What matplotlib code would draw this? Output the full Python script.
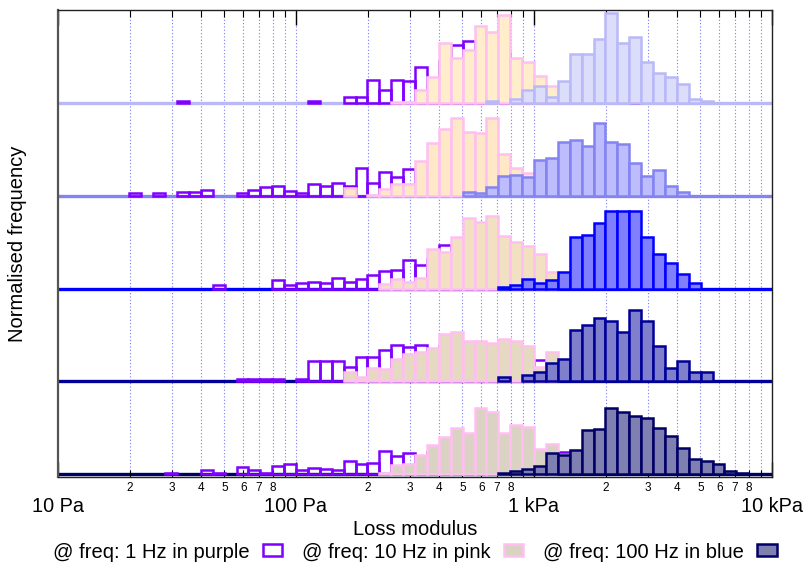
import numpy as np
import matplotlib
matplotlib.use("Agg")
import matplotlib.pyplot as plt
from matplotlib.patches import Patch
from matplotlib.ticker import FixedLocator, FixedFormatter

plt.rcParams['font.family'] = ['Liberation Sans', 'DejaVu Sans']

# Histogram bins: 20 per decade in log10(Pa); the first stored bin starts at 10**1.30 Pa
BINS_PER_DECADE = 20
FIRST_BIN = 26
ROW_SCALE = 92.8          # frequency value that fills one row of the ridge plot

# Normalised frequencies per bin (bins 26..77), rows listed from top to bottom
r1_1hz = [0, 0, 0, 0, 1.5, 0, 0, 0, 0, 0, 0, 0, 0, 0, 0, 1.5, 0, 0, 6, 6,
          23, 13, 23, 22, 36, 20, 42, 58, 62, 55, 48, 50, 20, 14, 8, 1.5, 0, 0, 0, 0,
          0, 0, 1.5, 0, 0, 0, 0, 0, 0, 0, 0, 0]
r1_10hz = [0, 0, 0, 0, 0, 0, 0, 0, 0, 0, 0, 0, 0, 0, 0, 0, 0, 0, 0, 0,
           0, 0, 1, 1, 13, 26, 60, 45, 53, 77, 71, 88, 45, 41, 27, 17, 0, 0, 0, 0,
           0, 0, 0, 0, 0, 0, 0, 0, 0, 0, 0, 0]
r1_100hz = [0, 0, 0, 0, 0, 0, 0, 0, 0, 0, 0, 0, 0, 0, 0, 0, 0, 0, 0, 0,
            0, 0, 0, 0, 0, 0, 0, 0, 0, 0, 1.5, 0, 4, 13, 17, 6, 22, 49, 49, 64,
            90, 60, 66, 41, 30, 26, 19, 4, 2, 0, 0, 0]

r2_1hz = [3, 0, 2.3, 0, 4, 4, 5.3, 0, 0, 2.7, 6, 8.3, 10, 5, 2.7, 11.7, 10, 12.7, 10, 27.7,
          12.7, 24, 18.3, 26.7, 25, 30, 35, 40, 38, 35, 30, 22, 15, 10, 6, 3, 0, 0, 0, 0,
          0, 0, 0, 0, 0, 0, 0, 0, 0, 0, 0, 0]
r2_10hz = [0, 0, 0, 0, 0, 0, 0, 0, 0, 0, 0, 0, 0, 0, 0, 0, 0, 0, 8, 0,
           1, 7, 11.7, 11.7, 35, 53, 67, 78, 64, 63, 78, 42, 28, 23, 15, 5, 0, 0, 0, 0,
           0, 0, 0, 0, 0, 0, 0, 0, 0, 0, 0, 0]
r2_100hz = [0, 0, 0, 0, 0, 0, 0, 0, 0, 0, 0, 0, 0, 0, 0, 0, 0, 0, 0, 0,
            0, 0, 0, 0, 0, 0, 0, 0, 4, 2.3, 8.3, 20, 20.7, 19, 36, 37.7, 54, 56, 50, 72.3,
            53.3, 51.7, 32.3, 20, 26, 10, 4, 0, 0, 0, 0, 0]

r3_1hz = [0, 0, 0, 0, 0, 0, 0, 3.3, 0, 0, 0, 0, 8.3, 3.3, 6, 7, 6, 11, 7, 9.3,
          13.7, 17.7, 18.3, 28.3, 23.3, 30, 43.7, 40, 35, 30, 25, 18, 12, 8, 4, 0, 0, 0, 0, 0,
          0, 0, 0, 0, 0, 0, 0, 0, 0, 0, 0, 0]
r3_10hz = [0, 0, 0, 0, 0, 0, 0, 0, 0, 0, 0, 0, 0, 0, 0, 0, 0, 0, 0, 0,
           0, 5, 9.3, 7, 11, 40, 37, 52, 70, 66, 72.7, 52.7, 46.7, 42.7, 35, 17, 0, 0, 0, 0,
           0, 0, 0, 0, 0, 0, 0, 0, 0, 0, 0, 0]
r3_100hz = [0, 0, 0, 0, 0, 0, 0, 0, 0, 0, 0, 0, 0, 0, 0, 0, 0, 0, 0, 0,
            0, 0, 0, 0, 0, 0, 0, 0, 0, 0, 0, 2, 3.3, 9.3, 6, 8.7, 16.7, 52, 54, 65,
            77.7, 77, 77, 51.7, 35, 25.3, 14.3, 6, 0, 0, 0, 0]

r4_1hz = [0, 0, 0, 0, 0, 0, 0, 0, 0, 2.3, 2.3, 2.3, 2.3, 0, 2.3, 20, 20, 20, 14.7, 24.7,
          24.7, 31.3, 36.7, 34, 36.7, 30, 35, 32, 30, 28, 25, 22, 20, 20, 21.7, 12, 0, 0, 0, 0,
          0, 0, 0, 0, 0, 0, 0, 0, 0, 0, 0, 0]
r4_10hz = [0, 0, 0, 0, 0, 0, 0, 0, 0, 0, 0, 0, 0, 0, 0, 0, 0, 0, 9, 4.7,
           13.3, 12.3, 22.3, 27.3, 29, 33.3, 47.3, 49, 40.7, 40, 38.3, 42.3, 40.7, 35.7, 14.7, 29, 0, 0, 0, 0,
           0, 0, 0, 0, 0, 0, 0, 0, 0, 0, 0, 0]
r4_100hz = [0, 0, 0, 0, 0, 0, 0, 0, 0, 0, 0, 0, 0, 0, 0, 0, 0, 0, 0, 0,
            0, 0, 0, 0, 0, 0, 0, 0, 0, 0, 0, 4, 0, 6.3, 9, 18, 22.3, 51.7, 56.7, 63,
            60.7, 49.7, 71.7, 60.7, 35.7, 13, 20, 9, 9, 0, 0, 0]

r5_1hz = [0, 0, 0, 1.7, 0, 0, 4, 1.7, 0, 7.3, 4, 1.7, 8.3, 10.7, 4, 6.3, 5, 4, 13, 10,
          11.7, 23, 18.3, 21.3, 18, 22, 25, 28, 30, 32, 30, 28, 26, 24, 22, 20, 22, 0, 0, 0,
          0, 0, 0, 0, 0, 0, 0, 0, 0, 0, 0, 0]
r5_10hz = [0, 0, 0, 0, 0, 0, 0, 0, 0, 0, 0, 0, 0, 0, 0, 0, 0, 0, 0, 0,
           0, 1.7, 9, 10.7, 19.7, 29, 37.3, 46.3, 40.7, 66.3, 62.3, 41.3, 49, 46.7, 25.7, 30, 0, 0, 0, 0,
           0, 0, 0, 0, 0, 0, 0, 0, 0, 0, 0, 0]
r5_100hz = [0, 0, 0, 0, 0, 0, 0, 0, 0, 0, 0, 0, 0, 0, 0, 0, 0, 0, 0, 0,
            0, 0, 0, 0, 0, 0, 0, 0, 0, 0, 0, 1.7, 3, 5.7, 8, 21.7, 19.7, 24.7, 44, 45,
            65.7, 61.7, 58.3, 55.7, 45.7, 38, 26.7, 15.7, 13, 10.7, 3, 1]

legend_labels = ['@ freq: 1 Hz in purple', '@ freq: 10 Hz in pink', '@ freq: 100 Hz in blue']
major_ticks = [10, 100, 1000, 10000]
major_labels = ['10 Pa', '100 Pa', '1 kPa', '10 kPa']
minor_mult = [2, 3, 4, 5, 6, 7, 8, 9]

# Styling
PURPLE = '#7f00ff'
PINK_EDGE = '#ffbff0'
pink_fill = ['#ffedcc', '#ffe8c8', '#f1e0c2', '#e5d9c2', '#dad2c3']
blue_fill = ['#dcdcfb', '#bdbdfd', '#8080ff', '#7f7fcc', '#7f7fb2']
blue_edge = ['#b9b9f7', '#8383f2', '#0000ff', '#000099', '#000066']

rows = [(r1_1hz, r1_10hz, r1_100hz), (r2_1hz, r2_10hz, r2_100hz),
        (r3_1hz, r3_10hz, r3_100hz), (r4_1hz, r4_10hz, r4_100hz),
        (r5_1hz, r5_10hz, r5_100hz)]

fig = plt.figure(figsize=(8.07, 5.68), dpi=100)
ax = fig.add_axes([58 / 807, (568 - 477) / 568, (772 - 58) / 807, (477 - 10) / 568])
ax.set_xscale('log')
ax.set_xlim(10, 10000)
ax.set_ylim(-0.03, 5.0)

idx = np.arange(FIRST_BIN, FIRST_BIN + len(r1_1hz))
left = 10 ** (idx / BINS_PER_DECADE)
width = 10 ** ((idx + 1) / BINS_PER_DECADE) - left

n_rows = len(rows)
for k, (p1, p10, p100) in enumerate(rows):
    base = n_rows - 1 - k
    ax.axhline(base, color=blue_edge[k], lw=2.4, zorder=1.5)
    for vals, fc, ec, z in ((p1, 'none', PURPLE, 2),
                            (p10, pink_fill[k], PINK_EDGE, 3),
                            (p100, blue_fill[k], blue_edge[k], 4)):
        v = np.asarray(vals, dtype=float)
        m = v > 0
        ax.bar(left[m], v[m] / ROW_SCALE, width[m], bottom=base, align='edge',
               facecolor=fc, edgecolor=ec, linewidth=1.8, zorder=z)

# Ticks: labelled minor ticks sit close to the axis, decade labels below them
minor_pos = [m * 10 ** d for d in (1, 2, 3) for m in minor_mult]
minor_lab = ['' if m == 9 else str(m) for d in (1, 2, 3) for m in minor_mult]
ax.xaxis.set_major_locator(FixedLocator(major_ticks))
ax.xaxis.set_major_formatter(FixedFormatter(major_labels))
ax.xaxis.set_minor_locator(FixedLocator(minor_pos))
ax.xaxis.set_minor_formatter(FixedFormatter(minor_lab))
ax.tick_params(axis='x', which='major', direction='in', top=True, length=10.8,
               width=1.0, labelsize=14.3, pad=14.5)
ax.tick_params(axis='x', which='minor', direction='in', top=True, length=5,
               width=0.8, labelsize=8.5, pad=3.5)
ax.set_yticks([])

for x in major_ticks[1:-1] + minor_pos:
    ax.axvline(x, color='#7878ff', lw=0.8, ls=(0, (1, 2)), zorder=0.5)

for side in ('top', 'bottom', 'right'):
    ax.spines[side].set_color('#222222')
    ax.spines[side].set_linewidth(1.0)
ax.spines['left'].set_color('#555555')
ax.spines['left'].set_linewidth(1.6)

fig.text(415 / 807, 1 - 535 / 568, 'Loss modulus', ha='center', va='baseline', fontsize=14.5)
fig.text(18 / 807, 1 - 243.5 / 568, 'Normalised frequency', ha='center', va='center',
         rotation=90, fontsize=14.5)

handles = [Patch(facecolor='white', edgecolor=PURPLE, linewidth=1.8),
           Patch(facecolor=pink_fill[-1], edgecolor=PINK_EDGE, linewidth=1.8),
           Patch(facecolor=blue_fill[-1], edgecolor=blue_edge[-1], linewidth=1.8)]
fig.legend(handles, legend_labels, loc='center', bbox_to_anchor=(415 / 807, 1 - 552 / 568),
           ncol=3, frameon=False, markerfirst=False, fontsize=14.5,
           handlelength=0.95, handleheight=0.55, handletextpad=0.65, columnspacing=1.0,
           borderpad=0.0)

fig.savefig('out.png', dpi=100)
